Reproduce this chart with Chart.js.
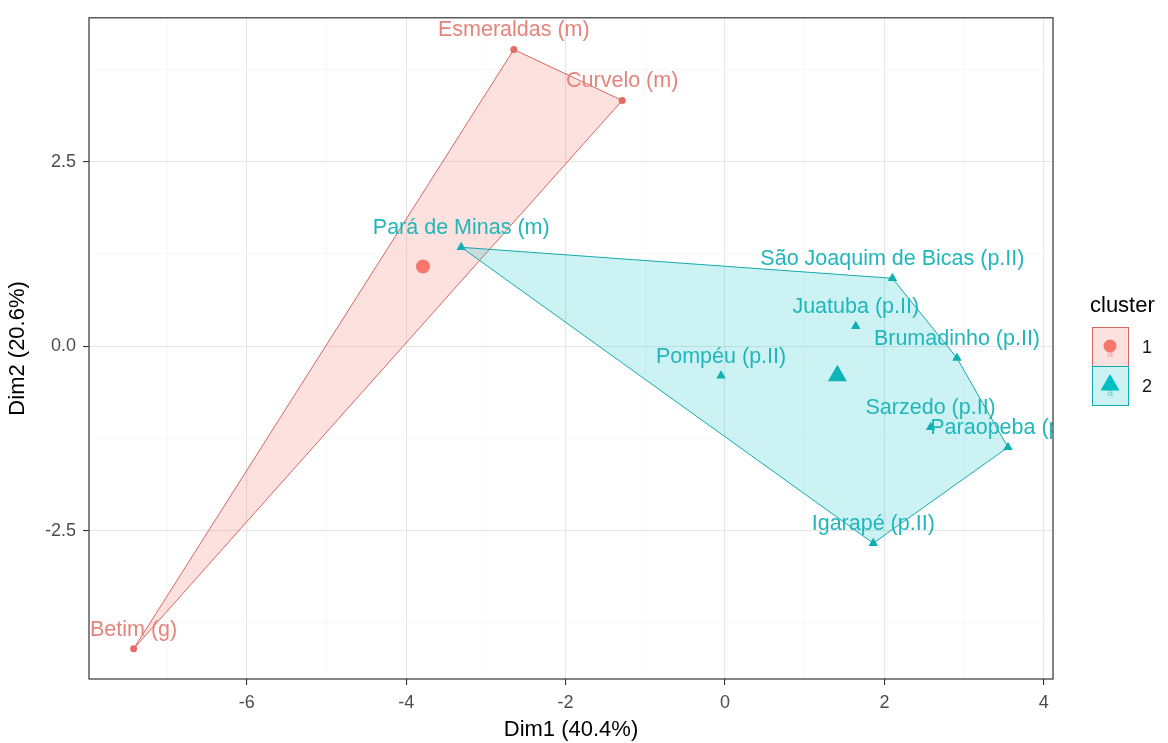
<!DOCTYPE html>
<html>
<head>
<meta charset="utf-8">
<title>Cluster plot</title>
<script src="https://cdn.jsdelivr.net/npm/chart.js@4/dist/chart.umd.min.js"></script>
<style>
  html, body { margin: 0; padding: 0; background: #fff; }
</style>
</head>
<body>
<canvas id="myChart" width="1168" height="743"></canvas>
<script>
// cluster 1 members
const names1 = ['Esmeraldas (m)', 'Curvelo (m)', 'Betim (g)'];
const dim1C1 = [-2.65, -1.29, -7.42];
const dim2C1 = [4.02, 3.33, -4.10];

// cluster 2 members
const names2 = ['Pará de Minas (m)', 'São Joaquim de Bicas (p.II)', 'Juatuba (p.II)', 'Brumadinho (p.II)',
                'Pompéu (p.II)', 'Sarzedo (p.II)', 'Paraopeba (p.II)', 'Igarapé (p.II)'];
const dim1C2 = [-3.31, 2.10, 1.64, 2.91, -0.05, 2.58, 3.55, 1.86];
const dim2C2 = [1.34, 0.92, 0.27, -0.16, -0.40, -1.10, -1.37, -2.67];

// convex hull vertices (indices into the member arrays)
const hull1 = [0, 1, 2];
const hull2 = [0, 1, 3, 6, 7];

// cluster centres
const clusters = ['1', '2'];
const centerX = [-3.79, 1.41];
const centerY = [1.08, -0.40];

// axis ticks
const xTicks = [-6, -4, -2, 0, 2, 4];
const yTicks = [-2.5, 0, 2.5];
const xMinorTicks = [-7, -5, -3, -1, 1, 3];
const yMinorTicks = [-3.75, -1.25, 1.25, 3.75];

const RED = '#F8766D';
const CYAN = '#00BFC4';
const RED_LINE = '#D6665F';
const CYAN_LINE = '#12AAAE';
const RED_TEXT = '#E6837C';
const CYAN_TEXT = '#1FB7BB';
const RED_FILL = 'rgba(248,118,109,0.22)';
const CYAN_FILL = 'rgba(0,191,196,0.2)';
const FONT = '"Liberation Sans", Arial, sans-serif';

Chart.defaults.font.family = FONT;

function toPoints(xs, ys) {
  return xs.map((x, i) => ({ x: x, y: ys[i] }));
}
function hullPoints(xs, ys, idx) {
  const p = idx.map(i => ({ x: xs[i], y: ys[i] }));
  p.push(p[0]);
  return p;
}

const data = {
  datasets: [
    {
      type: 'line', data: hullPoints(dim1C1, dim2C1, hull1),
      borderColor: RED_LINE, borderWidth: 1, backgroundColor: RED_FILL,
      fill: 'shape', pointRadius: 0, tension: 0, order: 10
    },
    {
      type: 'line', data: hullPoints(dim1C2, dim2C2, hull2),
      borderColor: CYAN_LINE, borderWidth: 1, backgroundColor: CYAN_FILL,
      fill: 'shape', pointRadius: 0, tension: 0, order: 9
    },
    {
      data: toPoints(dim1C1, dim2C1), pointNames: names1, labelColor: RED_TEXT,
      pointStyle: 'circle', pointRadius: 3.5, backgroundColor: '#E46A64', borderColor: '#E46A64',
      borderWidth: 0, order: 2
    },
    {
      data: toPoints(dim1C2, dim2C2), pointNames: names2, labelColor: CYAN_TEXT,
      pointStyle: 'triangle', pointRadius: 5.5, backgroundColor: '#0FAFB3', borderColor: '#0FAFB3',
      borderWidth: 0, order: 2
    },
    {
      data: [{ x: centerX[0], y: centerY[0] }],
      pointStyle: 'circle', pointRadius: 7, backgroundColor: RED, borderColor: RED,
      borderWidth: 0, order: 0
    },
    {
      data: [{ x: centerX[1], y: centerY[1] }],
      pointStyle: 'triangle', pointRadius: 11, backgroundColor: '#0FB4B8', borderColor: '#0FB4B8',
      borderWidth: 0, order: 0
    }
  ]
};

// text labels above each point, clipped to the panel
const pointLabels = {
  id: 'pointLabels',
  afterDatasetsDraw(chart) {
    const { ctx, chartArea } = chart;
    ctx.save();
    ctx.beginPath();
    ctx.rect(chartArea.left, chartArea.top, chartArea.width, chartArea.height);
    ctx.clip();
    ctx.font = '21.5px ' + FONT;
    ctx.textAlign = 'center';
    ctx.textBaseline = 'middle';
    chart.data.datasets.forEach((ds, i) => {
      if (!ds.pointNames) return;
      ctx.fillStyle = ds.labelColor;
      chart.getDatasetMeta(i).data.forEach((el, j) => {
        ctx.fillText(ds.pointNames[j], el.x, el.y - 19);
      });
    });
    ctx.restore();
  }
};

// panel border + ggplot style legend
const panelAndLegend = {
  id: 'panelAndLegend',
  afterDraw(chart) {
    const { ctx, chartArea } = chart;
    ctx.save();
    ctx.strokeStyle = '#333333';
    ctx.lineWidth = 1.2;
    ctx.strokeRect(chartArea.left, chartArea.top, chartArea.width, chartArea.height);

    const lx = chartArea.right + 39;
    ctx.fillStyle = '#000';
    ctx.font = '22px ' + FONT;
    ctx.textAlign = 'left';
    ctx.textBaseline = 'middle';
    ctx.fillText('cluster', lx - 2, 306);

    const colors = [RED, CYAN];
    const fills = [RED_FILL, CYAN_FILL];
    const lines = [RED_LINE, CYAN_LINE];
    const styles = ['circle', 'triangle'];
    const sizes = [6.5, 11];
    clusters.forEach((c, k) => {
      const y0 = 327 + k * 39;
      ctx.fillStyle = fills[k];
      ctx.fillRect(lx, y0, 36, 39);
      ctx.strokeStyle = lines[k];
      ctx.lineWidth = 1;
      ctx.strokeRect(lx + 0.5, y0 + 0.5, 36, 39);
      ctx.fillStyle = colors[k];
      ctx.strokeStyle = colors[k];
      Chart.helpers.drawPoint(ctx, { pointStyle: styles[k], radius: sizes[k], borderWidth: 0 }, lx + 18, y0 + 19);
      ctx.font = '11px ' + FONT;
      ctx.textAlign = 'center';
      ctx.fillStyle = colors[k];
      ctx.globalAlpha = 0.6;
      ctx.fillText('a', lx + 18, y0 + 27);
      ctx.globalAlpha = 1;
      ctx.font = '18px ' + FONT;
      ctx.textAlign = 'left';
      ctx.fillStyle = '#1A1A1A';
      ctx.fillText(c, lx + 50, y0 + 21);
    });
    ctx.restore();
  }
};

function gridColor(minor) {
  return ctx => (minor.includes(ctx.tick && ctx.tick.value) ? '#F3F3F3' : '#E6E6E6');
}

const config = {
  type: 'scatter',
  data: data,
  options: {
    responsive: false,
    animation: false,
    layout: { padding: { top: 16, right: 115, left: 0, bottom: 0 } },
    plugins: { legend: { display: false }, tooltip: { enabled: false } },
    scales: {
      x: {
        type: 'linear', min: -7.98, max: 4.115,
        afterBuildTicks: axis => {
          axis.ticks = xTicks.concat(xMinorTicks).sort((a, b) => a - b).map(v => ({ value: v }));
        },
        afterFit: axis => { axis.height = 64; },
        border: { display: false },
        grid: {
          color: gridColor(xMinorTicks),
          lineWidth: ctx => (xMinorTicks.includes(ctx.tick && ctx.tick.value) ? 0.6 : 1.1),
          tickColor: ctx => (xMinorTicks.includes(ctx.tick && ctx.tick.value) ? 'rgba(0,0,0,0)' : '#333333'),
          tickLength: 6, tickWidth: 1.1
        },
        ticks: {
          autoSkip: false, maxRotation: 0, padding: 7,
          color: '#4D4D4D', font: { size: 18 },
          callback: v => (xTicks.includes(v) ? String(v) : '')
        },
        title: {
          display: true, text: 'Dim1 (40.4%)', color: '#000',
          font: { size: 22 }, padding: { top: 0, bottom: 0 }
        }
      },
      y: {
        type: 'linear', min: -4.51, max: 4.45,
        afterBuildTicks: axis => {
          axis.ticks = yTicks.concat(yMinorTicks).sort((a, b) => a - b).map(v => ({ value: v }));
        },
        afterFit: axis => { axis.width = 89; },
        border: { display: false },
        grid: {
          color: gridColor(yMinorTicks),
          lineWidth: ctx => (yMinorTicks.includes(ctx.tick && ctx.tick.value) ? 0.6 : 1.1),
          tickColor: ctx => (yMinorTicks.includes(ctx.tick && ctx.tick.value) ? 'rgba(0,0,0,0)' : '#333333'),
          tickLength: 6, tickWidth: 1.1
        },
        ticks: {
          autoSkip: false, padding: 7,
          color: '#4D4D4D', font: { size: 18 },
          callback: v => (yTicks.includes(v) ? v.toFixed(1) : '')
        },
        title: {
          display: true, text: 'Dim2 (20.6%)', color: '#000',
          font: { size: 22 }, padding: { top: 5, bottom: 0 }
        }
      }
    }
  },
  plugins: [pointLabels, panelAndLegend]
};

new Chart(document.getElementById('myChart').getContext('2d'), config);
</script>
</body>
</html>
